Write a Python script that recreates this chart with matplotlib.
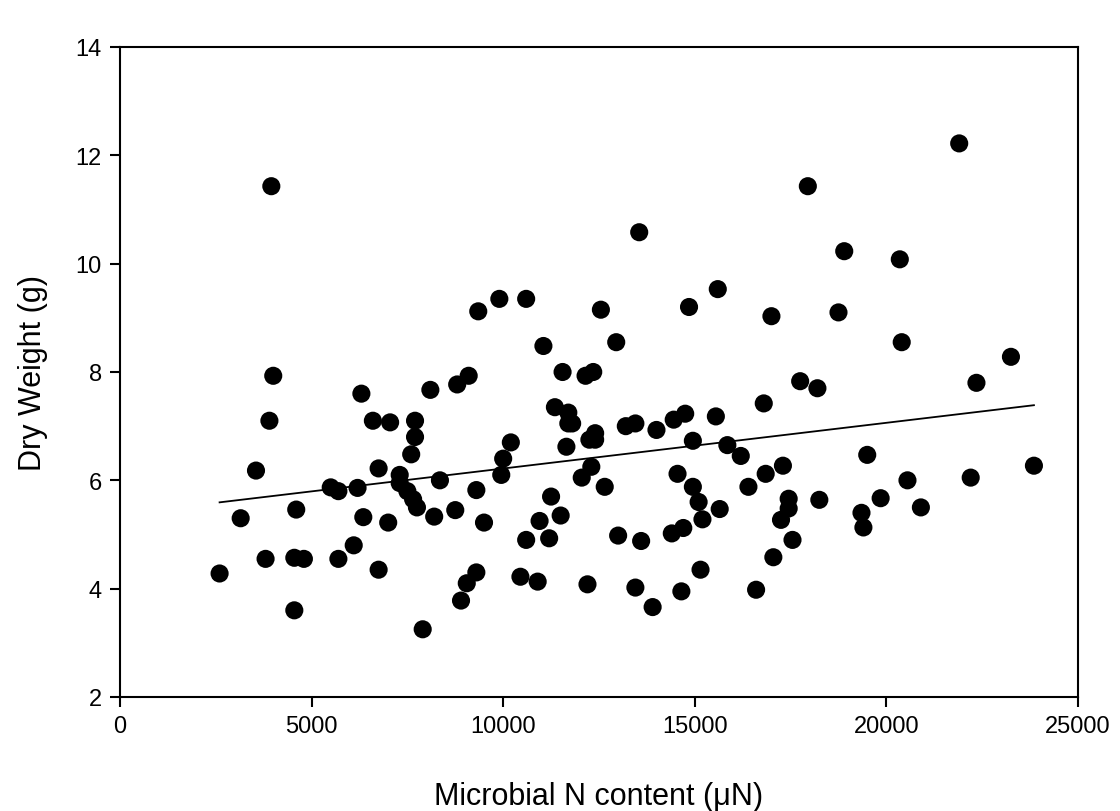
import numpy as np
import matplotlib
matplotlib.use("Agg")
import matplotlib.pyplot as plt

plt.rcParams['font.family'] = ['Liberation Sans', 'DejaVu Sans']

# Microbial N content (x) and dry weight (y)
microbial_n = [
    2600, 3150, 3550, 3800, 3900, 3950, 4000, 4550, 4550, 4600,
    4800, 5500, 5700, 5700, 6100, 6200, 6300, 6350, 6600, 6750,
    6750, 7000, 7050, 7300, 7300, 7500, 7600, 7650, 7700, 7700,
    7750, 7900, 8100, 8200, 8350, 8750, 8800, 8900, 9050, 9100,
    9300, 9300, 9350, 9500, 9900, 9950, 10000, 10200, 10450, 10600,
    10600, 10900, 10950, 11050, 11200, 11250, 11350, 11500, 11550, 11650,
    11700, 11700, 11800, 12050, 12150, 12200, 12250, 12300, 12350, 12400,
    12400, 12550, 12650, 12950, 13000, 13200, 13450, 13450, 13550, 13600,
    13900, 14000, 14400, 14450, 14550, 14650, 14700, 14750, 14850, 14950,
    14950, 15100, 15150, 15200, 15550, 15600, 15650, 15850, 16200, 16400,
    16600, 16800, 16850, 17000, 17050, 17250, 17300, 17450, 17450, 17550,
    17750, 17950, 18200, 18250, 18750, 18900, 19350, 19400, 19500, 19850,
    20350, 20400, 20550, 20900, 21900, 22200, 22350, 23250, 23850,
]
dry_weight = [
    4.28, 5.30, 6.18, 4.55, 7.10, 11.43, 7.93, 3.60, 4.57, 5.46,
    4.55, 5.87, 5.80, 4.55, 4.80, 5.86, 7.60, 5.32, 7.10, 4.35,
    6.22, 5.22, 7.07, 6.10, 5.95, 5.80, 6.48, 5.65, 7.10, 6.80,
    5.50, 3.25, 7.67, 5.33, 6.00, 5.45, 7.77, 3.78, 4.10, 7.93,
    5.82, 4.30, 9.12, 5.22, 9.35, 6.10, 6.40, 6.70, 4.22, 9.35,
    4.90, 4.13, 5.25, 8.48, 4.93, 5.70, 7.35, 5.35, 8.00, 6.62,
    7.25, 7.05, 7.05, 6.05, 7.93, 4.08, 6.75, 6.25, 8.00, 6.87,
    6.75, 9.15, 5.88, 8.55, 4.98, 7.00, 7.05, 4.02, 10.58, 4.88,
    3.66, 6.93, 5.02, 7.12, 6.12, 3.95, 5.12, 7.23, 9.20, 6.73,
    5.88, 5.60, 4.35, 5.28, 7.18, 9.53, 5.47, 6.65, 6.45, 5.88,
    3.98, 7.42, 6.12, 9.03, 4.58, 5.27, 6.27, 5.66, 5.48, 4.90,
    7.83, 11.43, 7.70, 5.64, 9.10, 10.23, 5.40, 5.13, 6.47, 5.67,
    10.08, 8.55, 6.00, 5.50, 12.22, 6.05, 7.80, 8.28, 6.27,
]

x = np.array(microbial_n)
y = np.array(dry_weight)

# simple linear regression drawn over the data range
slope, intercept = np.polyfit(x, y, 1)
fit_x = np.array([x.min(), x.max()])
fit_y = intercept + slope * fit_x

fig = plt.figure(figsize=(11.2, 8.12), dpi=100)
ax = fig.add_axes([0.1071, 0.1404, 0.8554, 0.8005])

ax.scatter(x, y, s=170, color='black', edgecolors='none', zorder=3)
ax.plot(fit_x, fit_y, color='black', linewidth=1.3, zorder=2)

ax.set_xlim(0, 25000)
ax.set_ylim(2, 14)
ax.set_xticks(np.arange(0, 25001, 5000))
ax.set_yticks(np.arange(2, 15, 2))
ax.tick_params(direction='out', length=7, width=1.5, labelsize=17, pad=6)
for sp in ax.spines.values():
    sp.set_linewidth(1.5)

ax.set_xlabel('Microbial N content (μN)', fontsize=22, labelpad=32)
ax.set_ylabel('Dry Weight (g)', fontsize=22, labelpad=20)

fig.savefig('out.png', dpi=100)
